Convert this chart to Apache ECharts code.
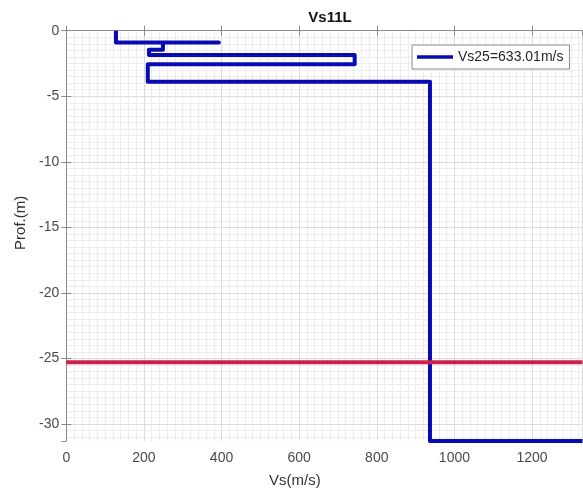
<!DOCTYPE html>
<html>
<head>
<meta charset="utf-8">
<script src="https://cdn.jsdelivr.net/npm/echarts@6/dist/echarts.min.js"></script>
<style>html,body{margin:0;padding:0;background:#fff}#c{width:583px;height:497px}</style>
</head>
<body>
<div id="c"></div>
<script>
// Data
const profileVs    = [128, 128, 393, 249, 249, 213, 213, 743, 743, 210, 210, 937, 937, 1330];
const profileDepth = [0, -0.9, -0.9, -0.9, -1.45, -1.45, -1.85, -1.85, -2.55, -2.55, -3.9, -3.9, -31.3, -31.3];
const refVs    = [0, 1330];
const refDepth = [-25.3, -25.3];
const xMin = 0, xMax = 1330, xStep = 200, xMinorStep = 20;
const yMin = -31.3, yMax = 0, yStep = 5, yMinorStep = 0.5, yMinorMin = -31.5;
const titleText = 'Vs11L';
const seriesName = 'Vs25=633.01m/s';

const font = 'Liberation Sans, Arial, Helvetica, sans-serif';
const axisColor = '#8a8a8a';
const labelColor = '#4a4a4a';
const majorGrid = '#dcdcdc';
const minorGrid = '#ededed';

const chart = echarts.init(document.getElementById('c'), null, {renderer: 'canvas'});
const L = 66.3, R = 0.5, T = 30.7, B = 56;
const pxPerUnit = (497 - T - B) / (yMax - yMin);
const B2 = 497 - T - pxPerUnit * (yMax - yMinorMin);
const plain = v => String(v);

chart.setOption({
  animation: false,
  backgroundColor: '#fff',
  textStyle: {fontFamily: font},
  title: {
    text: titleText, left: 325, top: 5, textAlign: 'center',
    textStyle: {fontFamily: font, fontSize: 15, fontWeight: 'bold', color: '#111'}
  },
  legend: {
    data: [{name: seriesName, icon: 'rect'}], left: 412, top: 45,
    padding: [5, 6, 5, 5], itemWidth: 36, itemHeight: 3.5, itemGap: 5,
    backgroundColor: '#fff', borderColor: '#8a8a8a', borderWidth: 1, borderRadius: 0,
    itemStyle: {color: '#0a0ab4'},
    textStyle: {fontFamily: font, fontSize: 14, color: '#262626', lineHeight: 14, height: 14}
  },
  grid: [
    {left: L, right: R, top: T, bottom: B, containLabel: false},
    {left: L, right: R, top: T, bottom: B2, containLabel: false}
  ],
  xAxis: [
    {
      gridIndex: 0, type: 'value', position: 'bottom', min: xMin, max: xMax, interval: xStep, z: 3,
      name: 'Vs(m/s)', nameLocation: 'middle', nameGap: 32,
      nameTextStyle: {fontFamily: font, fontSize: 15, color: '#333', padding: [0, 59, 0, 0]},
      axisLine: {show: true, lineStyle: {color: axisColor, width: 1}},
      axisTick: {show: true, inside: true, length: 5, lineStyle: {color: axisColor}},
      axisLabel: {show: true, margin: 10, fontSize: 14, color: labelColor, fontFamily: font, showMaxLabel: false, formatter: plain},
      splitLine: {show: true, lineStyle: {color: majorGrid, width: 1}}
    },
    {
      gridIndex: 0, type: 'value', position: 'top', min: xMin, max: xMax, interval: xStep, z: 3,
      axisLine: {show: true, lineStyle: {color: axisColor, width: 1}},
      axisTick: {show: true, inside: true, length: 5, lineStyle: {color: axisColor}},
      axisLabel: {show: false}, splitLine: {show: false}
    },
    {
      gridIndex: 0, type: 'value', position: 'bottom', min: xMin, max: xMax, interval: xMinorStep, z: 0,
      axisLine: {show: false}, axisTick: {show: false}, axisLabel: {show: false},
      splitLine: {show: true, showMinLine: false, showMaxLine: false, lineStyle: {color: minorGrid, width: 1}}
    },
    {gridIndex: 1, type: 'value', min: xMin, max: xMax, show: false}
  ],
  yAxis: [
    {
      gridIndex: 0, type: 'value', position: 'left', min: yMin, max: yMax,
      minInterval: yStep, maxInterval: yStep, z: 3,
      name: 'Prof.(m)', nameLocation: 'middle', nameGap: 36,
      nameTextStyle: {fontFamily: font, fontSize: 15, color: '#333', padding: [0, 0, 0, 26]},
      axisLine: {show: true, lineStyle: {color: axisColor, width: 1}},
      axisTick: {show: true, inside: true, length: 5, lineStyle: {color: axisColor}},
      axisLabel: {show: true, margin: 7, fontSize: 14, color: labelColor, fontFamily: font, showMinLabel: false, formatter: plain},
      splitLine: {show: true, showMinLine: false, lineStyle: {color: majorGrid, width: 1}}
    },
    {
      gridIndex: 0, type: 'value', position: 'right', min: yMin, max: yMax,
      minInterval: yStep, maxInterval: yStep, z: 3,
      axisLine: {show: true, lineStyle: {color: axisColor, width: 1}},
      axisTick: {show: true, inside: true, length: 5, lineStyle: {color: axisColor}},
      axisLabel: {show: false}, splitLine: {show: false}
    },
    {
      gridIndex: 1, type: 'value', position: 'left', min: yMinorMin, max: yMax, interval: yMinorStep, z: 0,
      axisLine: {show: false}, axisTick: {show: false}, axisLabel: {show: false},
      splitLine: {show: true, showMinLine: false, showMaxLine: false, lineStyle: {color: minorGrid, width: 1}}
    }
  ],
  series: [
    {
      name: seriesName, type: 'line', xAxisIndex: 0, yAxisIndex: 0,
      data: profileVs.map((v, i) => [v, profileDepth[i]]),
      symbol: 'none', clip: false, z: 5,
      lineStyle: {color: '#0a0ab4', width: 4, cap: 'butt', join: 'round'},
      itemStyle: {color: '#0a0ab4'}
    },
    {
      name: 'ref', type: 'line', xAxisIndex: 0, yAxisIndex: 0,
      data: refVs.map((v, i) => [v, refDepth[i]]),
      symbol: 'none', clip: false, z: 6,
      lineStyle: {color: '#cc1f4c', width: 4, cap: 'butt'},
      itemStyle: {color: '#cc1f4c'}
    }
  ]
});
</script>
</body>
</html>
